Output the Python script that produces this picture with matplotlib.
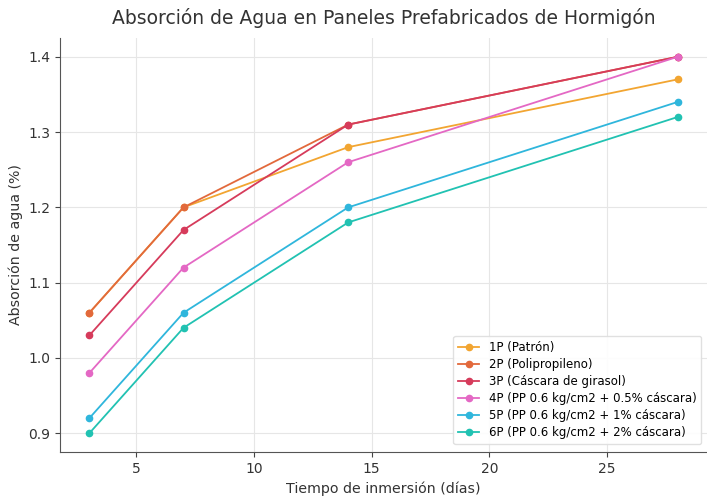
import matplotlib.pyplot as plt

# Tiempo de inmersión (días)
dias = [3, 7, 14, 28]

# Absorción de agua (%) por panel
p1 = [1.06, 1.20, 1.28, 1.37]
p2 = [1.06, 1.20, 1.31, 1.40]
p3 = [1.03, 1.17, 1.31, 1.40]
p4 = [0.98, 1.12, 1.26, 1.40]
p5 = [0.92, 1.06, 1.20, 1.34]
p6 = [0.90, 1.04, 1.18, 1.32]

etiquetas = [
    "1P (Patrón)",
    "2P (Polipropileno)",
    "3P (Cáscara de girasol)",
    "4P (PP 0.6 kg/cm2 + 0.5% cáscara)",
    "5P (PP 0.6 kg/cm2 + 1% cáscara)",
    "6P (PP 0.6 kg/cm2 + 2% cáscara)",
]
colores = ["#f2a531", "#e2693c", "#d63b5b", "#e468c4", "#2fb6dc", "#21c2b2"]

fig = plt.figure(figsize=(7.07, 5.01), dpi=100)
ax = fig.add_axes([60 / 707, 49 / 501, 647 / 707, 414 / 501])

for serie, etiqueta, color in zip([p1, p2, p3, p4, p5, p6], etiquetas, colores):
    ax.plot(dias, serie, marker="o", markersize=4.5, linewidth=1.3,
            color=color, label=etiqueta)

ax.set_xlim(1.75, 29.25)
ax.set_ylim(0.875, 1.425)
ax.set_xticks([5, 10, 15, 20, 25])
ax.set_yticks([0.9, 1.0, 1.1, 1.2, 1.3, 1.4])
ax.set_yticklabels(["0.9", "1.0", "1.1", "1.2", "1.3", "1.4"])
ax.tick_params(labelsize=10, colors="#444444", labelcolor="#333333")

ax.grid(True, color="#e6e6e6", linewidth=0.8)
ax.set_axisbelow(True)
for lado in ["top", "right"]:
    ax.spines[lado].set_visible(False)
for lado in ["left", "bottom"]:
    ax.spines[lado].set_color("#555555")

ax.set_xlabel("Tiempo de inmersión (días)", fontsize=10.2, color="#333333")
ax.set_ylabel("Absorción de agua (%)", fontsize=10.2, color="#333333")
ax.set_title("Absorción de Agua en Paneles Prefabricados de Hormigón",
             fontsize=13.5, color="#333333", pad=10)

ax.legend(loc="lower right", fontsize=8.5, frameon=True, framealpha=0.9,
          edgecolor="#dddddd", bbox_to_anchor=(1.0, 0.005),
          handlelength=1.8, labelspacing=0.35)

fig.savefig("out.png", dpi=100)
